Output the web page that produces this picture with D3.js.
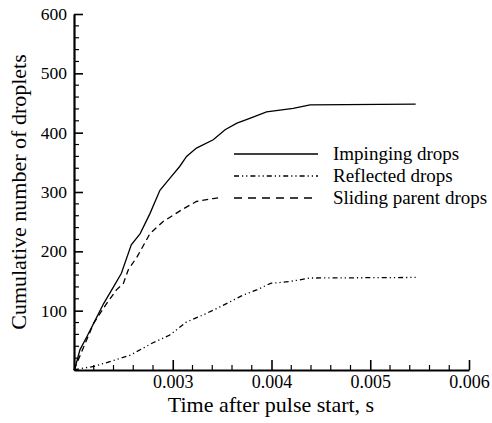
<!DOCTYPE html>
<html><head><meta charset="utf-8">
<script src="https://cdn.jsdelivr.net/npm/d3@7/dist/d3.min.js"></script>
<style>body{margin:0;background:#fff}svg{display:block}svg text{font-family:"Liberation Serif","Times New Roman",Times,serif !important;fill:#000}</style>
</head><body>
<svg id="chart" width="492" height="423"></svg>
<script>
// Data
const impTime = [0.00200,0.00201,0.00206,0.00213,0.00220,0.00230,0.00240,0.00248,0.00258,0.00267,0.00277,0.00287,0.00297,0.00307,0.00314,0.00324,0.00341,0.00353,0.00365,0.00378,0.00395,0.00422,0.00439,0.00546];
const impVals = [0,3,34,56,79,112,140,163,211,230,264,303,323,343,360,374,388,405,416,424,435,441,447,448];
const reflTime = [0.00200,0.00205,0.00220,0.00240,0.00257,0.00280,0.00297,0.00314,0.00331,0.00345,0.00358,0.00371,0.00385,0.00399,0.00418,0.00439,0.00546];
const reflVals = [0,2,6,16,25,46,59,81,93,104,115,126,135,146,149,155,156];
const slideTime = [0.00200,0.00220,0.00233,0.00243,0.00250,0.00255,0.00264,0.00277,0.00290,0.00311,0.00324,0.00341,0.00350];
const slideVals = [0,79,112,135,146,169,191,230,250,272,284,289,291];
const xTicks = [0.003,0.004,0.005,0.006];
const yTicks = [100,200,300,400,500,600];
const seriesNames = ["Impinging drops","Reflected drops","Sliding parent drops"];

const FONT = '"Liberation Serif","Times New Roman",Times,serif';
const svg = d3.select("#chart");
const x = d3.scaleLinear().domain([0.002,0.006]).range([74,469]);
const y = d3.scaleLinear().domain([0,600]).range([370,14]);

// minor ticks
const xMinor = d3.range(0.0022,0.00601,0.0002).filter(v=>!xTicks.some(t=>Math.abs(t-v)<1e-9));
const yMinor = d3.range(20,601,20).filter(v=>v%100!==0);

const g = svg.append("g");
g.selectAll(".xm").data(xMinor).enter().append("line")
 .attr("x1",d=>x(d)).attr("x2",d=>x(d)).attr("y1",370).attr("y2",365).attr("stroke","#000").attr("stroke-width",1.2);
g.selectAll(".ym").data(yMinor).enter().append("line")
 .attr("y1",d=>y(d)).attr("y2",d=>y(d)).attr("x1",74).attr("x2",79).attr("stroke","#000").attr("stroke-width",1.2);

const xAxis = d3.axisBottom(x).tickValues(xTicks).tickFormat(d3.format(".3f")).tickSizeInner(-10).tickSizeOuter(0).tickPadding(5);
const gx = svg.append("g").attr("transform","translate(0,370)").call(xAxis).attr("font-family",FONT).attr("font-size",18);
gx.select(".domain").attr("stroke-width",2.2);
gx.selectAll(".tick line").attr("stroke-width",1.6);

const yAxis = d3.axisLeft(y).tickValues(yTicks).tickSizeInner(-9).tickSizeOuter(0).tickPadding(7);
const gy = svg.append("g").attr("transform","translate(74,0)").call(yAxis).attr("font-family",FONT).attr("font-size",17.5);
gy.select(".domain").attr("stroke-width",2.2);
gy.selectAll(".tick line").attr("stroke-width",1.6);

// lines
const line = d3.line().x(d=>x(d[0])).y(d=>y(d[1]));
const series = [
  {pts: d3.zip(impTime, impVals), dash: null},
  {pts: d3.zip(reflTime, reflVals), dash: "5,3,1.2,3,1.2,3"},
  {pts: d3.zip(slideTime, slideVals), dash: "6,4"}
];
svg.selectAll(".series").data(series).enter().append("path")
 .attr("d",d=>line(d.pts)).attr("fill","none").attr("stroke","#000").attr("stroke-width",1.3)
 .attr("stroke-dasharray",d=>d.dash);

// legend
const legY = [154,176,198];
const legDash = [null,"5,3,1.2,3,1.2,3","8,6"];
const lg = svg.append("g").attr("font-family",FONT);
seriesNames.forEach((n,i)=>{
  lg.append("line").attr("x1",234).attr("x2",318).attr("y1",legY[i]).attr("y2",legY[i])
    .attr("stroke","#000").attr("stroke-width",1.3).attr("stroke-dasharray",legDash[i]);
  lg.append("text").attr("x",333).attr("y",legY[i]+6).attr("font-size",19).text(n);
});

// titles
svg.append("text").attr("x",271).attr("y",412).attr("text-anchor","middle").attr("font-family",FONT).attr("font-size",22).text("Time after pulse start, s");
svg.append("text").attr("transform","translate(26,192) rotate(-90)").attr("text-anchor","middle").attr("font-family",FONT).attr("font-size",22).text("Cumulative number of droplets");
</script>
</body></html>
